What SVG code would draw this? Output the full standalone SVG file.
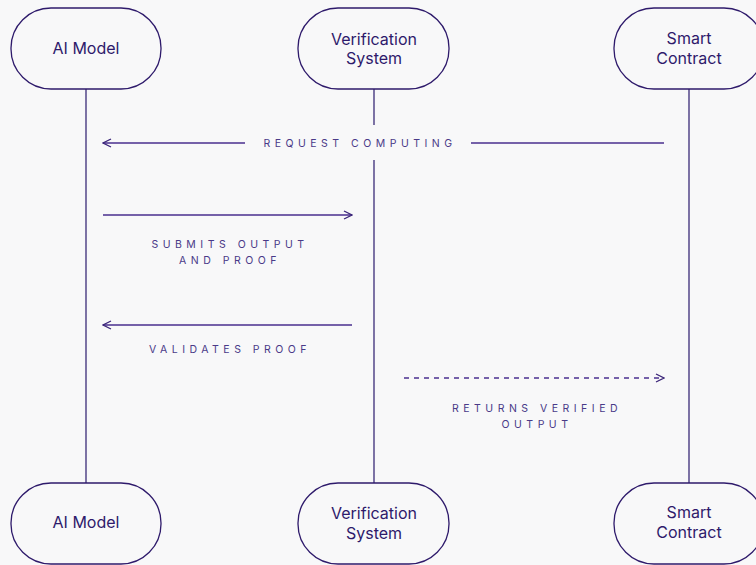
<svg xmlns="http://www.w3.org/2000/svg" width="756" height="565" viewBox="0 0 756 565">
  <style>
    .node rect { fill: #f8f8f9; stroke: #2e1a6b; stroke-width: 1.3; }
    .node text { font-family: Inter, "Liberation Sans", sans-serif; font-size: 16px; fill: #2e1a6b; text-anchor: middle; }
    .life { stroke: #3a2a78; stroke-width: 1.3; fill: none; }
    .msg { stroke: #4a2f8e; stroke-width: 1.3; fill: none; }
    .dash { stroke-dasharray: 5 5; }
    .lbl { font-family: Inter, "Liberation Sans", sans-serif; font-size: 10.5px; letter-spacing: 4.5px; fill: #4a3a88; text-anchor: middle; }
  </style>
  <defs>
    <marker id="arrow" viewBox="0 0 10 10" refX="9" refY="5" markerWidth="10" markerHeight="10" markerUnits="userSpaceOnUse" orient="auto-start-reverse">
      <path d="M1,1 L9,5 L1,9" fill="none" stroke="#3a2478" stroke-width="1.3"/>
    </marker>
  </defs>
  <rect width="756" height="565" fill="#f8f8f9"/>

  <!-- lifelines -->
  <g id="lifelines">
    <line class="life" x1="86" y1="89" x2="86" y2="483"/>
    <line class="life" x1="374" y1="89" x2="374" y2="125"/>
    <line class="life" x1="374" y1="160" x2="374" y2="483"/>
    <line class="life" x1="689" y1="89" x2="689" y2="483"/>
  </g>

  <!-- messages -->
  <g id="connectors">
    <line class="msg" x1="664" y1="143" x2="471" y2="143"/>
    <line class="msg" x1="245" y1="143" x2="103" y2="143" marker-end="url(#arrow)"/>
    <text class="lbl" x="360" y="147">REQUEST COMPUTING</text>

    <line class="msg" x1="103" y1="215" x2="352" y2="215" marker-end="url(#arrow)"/>
    <text class="lbl" x="230" y="248">SUBMITS OUTPUT</text>
    <text class="lbl" x="230" y="264">AND PROOF</text>

    <line class="msg" x1="352" y1="325" x2="103" y2="325" marker-end="url(#arrow)"/>
    <text class="lbl" x="230" y="353">VALIDATES PROOF</text>

    <line class="msg dash" x1="404" y1="378" x2="664" y2="378" marker-end="url(#arrow)"/>
    <text class="lbl" x="537" y="412">RETURNS VERIFIED</text>
    <text class="lbl" x="537" y="428">OUTPUT</text>
  </g>

  <!-- participants, top -->
  <g id="ai-model-top" class="node">
    <rect x="11" y="8" width="150" height="81" rx="40" ry="40"/>
    <text x="86" y="54">AI Model</text>
  </g>
  <g id="verification-top" class="node">
    <rect x="298" y="8" width="151" height="81" rx="40" ry="40"/>
    <text x="374" y="44.5">Verification</text>
    <text x="374" y="64">System</text>
  </g>
  <g id="contract-top" class="node">
    <rect x="614" y="8" width="150" height="81" rx="40" ry="40"/>
    <text x="689" y="44">Smart</text>
    <text x="689" y="63.5">Contract</text>
  </g>

  <!-- participants, bottom -->
  <g id="ai-model-bottom" class="node">
    <rect x="11" y="483" width="150" height="81" rx="40" ry="40"/>
    <text x="86" y="528">AI Model</text>
  </g>
  <g id="verification-bottom" class="node">
    <rect x="298" y="483" width="151" height="81" rx="40" ry="40"/>
    <text x="374" y="519">Verification</text>
    <text x="374" y="538.5">System</text>
  </g>
  <g id="contract-bottom" class="node">
    <rect x="614" y="483" width="150" height="81" rx="40" ry="40"/>
    <text x="689" y="518">Smart</text>
    <text x="689" y="537.5">Contract</text>
  </g>
</svg>
